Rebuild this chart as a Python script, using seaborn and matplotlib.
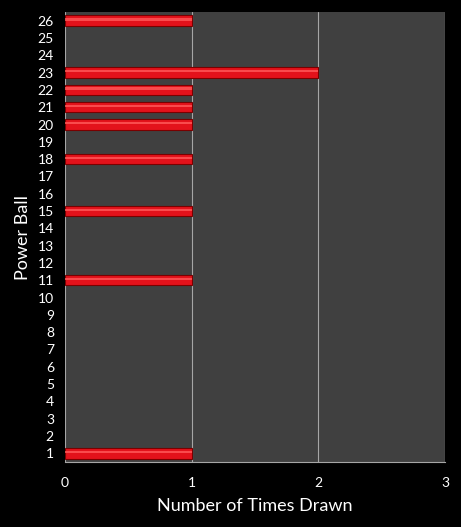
import pandas as pd
import matplotlib
matplotlib.use("Agg")
import matplotlib.pyplot as plt
import seaborn as sns

balls = [str(n) for n in range(1, 27)]
times_drawn = [1, 0, 0, 0, 0, 0, 0, 0, 0, 0, 1, 0, 0, 0, 1, 0, 0, 1, 0, 1, 1, 1, 2, 0, 0, 1]

df = pd.DataFrame({"ball": balls, "times": times_drawn})
order = balls[::-1]

sns.set_style("dark")
plt.rcParams["font.family"] = ["Lato", "DejaVu Sans"]

fig = plt.figure(figsize=(4.61, 5.27), dpi=100, facecolor="black")
ax = fig.add_axes([65 / 461, 65 / 527, 380 / 461, 450 / 527])
ax.set_facecolor("#404040")

sns.barplot(data=df, x="times", y="ball", order=order, orient="h", ax=ax,
            color="#e3121b", width=0.6, edgecolor="#7a0000", linewidth=0.8, saturation=1)

# shine stripe on each bar, hide empty bars
for p in list(ax.patches):
    if p.get_width() > 0:
        ax.barh(p.get_y() + p.get_height() * 0.38, p.get_width(), height=p.get_height() * 0.22,
                color="#ff5a5a", linewidth=0, alpha=0.8)
    else:
        p.set_visible(False)

ax.set_xlim(0, 3)
ax.set_ylim(len(order) - 0.5, -0.5)
ax.set_xticks([0, 1, 2, 3])
ax.grid(axis="x", color="#a6a6a6", linewidth=0.8)
ax.grid(axis="y", visible=False)
ax.set_axisbelow(True)
for s in ["top", "right", "left"]:
    ax.spines[s].set_visible(False)
ax.spines["bottom"].set_color("#a6a6a6")

ax.tick_params(axis="both", colors="white", labelsize=10, length=0)
ax.tick_params(axis="x", pad=11)
ax.tick_params(axis="y", pad=8)
ax.set_xlabel("Number of Times Drawn", color="white", fontsize=13, labelpad=6)
ax.set_ylabel("Power Ball", color="white", fontsize=13)
ax.yaxis.set_label_coords(-34 / 380, 0.5)

fig.savefig("out.png", dpi=100, facecolor="black")
